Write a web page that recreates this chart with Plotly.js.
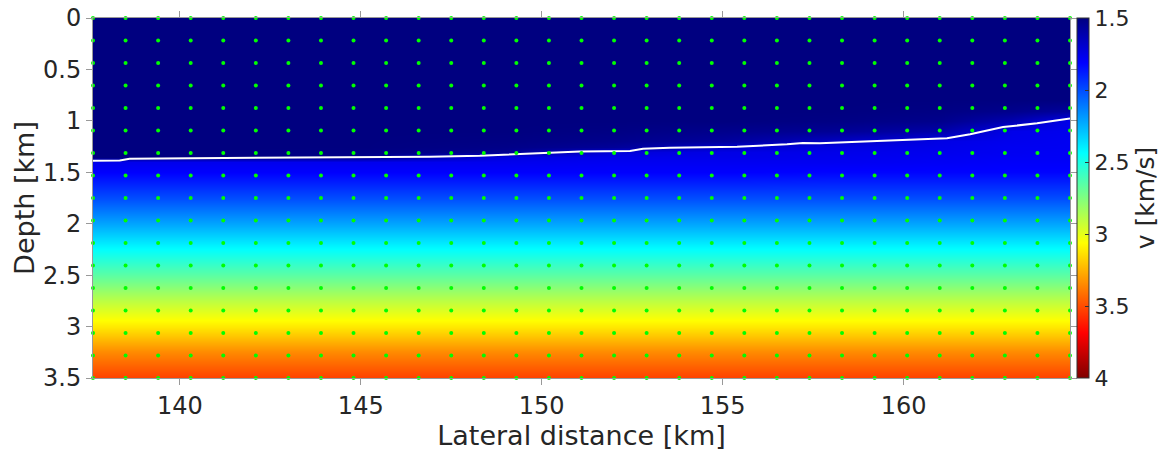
<!DOCTYPE html>
<html><head><meta charset="utf-8">
<script src="https://cdn.plot.ly/plotly-3.0.1.min.js"></script>
<style>html,body{margin:0;padding:0;background:#fff}#chart{width:1165px;height:453px}</style>
</head><body><div id="chart"></div>
<script>
// Velocity model grid (lateral km x depth km), values in km/s
const gridX = [137.6, 141, 145, 149, 152, 155, 158, 161, 163, 164.6];
const gridDepth = [0, 0.8, 0.9, 1.0, 1.1, 1.2, 1.25, 1.3, 1.35, 1.4, 1.5, 1.75, 2.0, 2.25, 2.5, 2.75, 3.0, 3.25, 3.5];
const velocity = [
  [1.5, 1.5, 1.5, 1.5, 1.5, 1.5, 1.5, 1.5, 1.5, 1.5],
  [1.5, 1.5, 1.5, 1.5, 1.5, 1.5, 1.5, 1.5, 1.5, 1.5],
  [1.5, 1.5, 1.5, 1.5, 1.5, 1.5, 1.5, 1.51, 1.53, 1.57],
  [1.5, 1.5, 1.5, 1.5, 1.5, 1.5, 1.51, 1.53, 1.62, 1.76],
  [1.5, 1.5, 1.5, 1.5, 1.51, 1.53, 1.55, 1.6, 1.76, 1.77],
  [1.5, 1.5, 1.5, 1.51, 1.53, 1.57, 1.66, 1.75, 1.77, 1.78],
  [1.5, 1.5, 1.5, 1.52, 1.56, 1.68, 1.74, 1.76, 1.78, 1.78],
  [1.5, 1.5, 1.51, 1.54, 1.72, 1.75, 1.76, 1.77, 1.78, 1.79],
  [1.5, 1.5, 1.52, 1.74, 1.76, 1.76, 1.77, 1.78, 1.79, 1.79],
  [1.76, 1.77, 1.77, 1.77, 1.78, 1.78, 1.78, 1.79, 1.8, 1.8],
  [1.81, 1.81, 1.81, 1.81, 1.81, 1.81, 1.82, 1.82, 1.82, 1.82],
  [2.0, 2.0, 2.0, 2.0, 2.0, 2.0, 2.0, 2.0, 2.0, 2.0],
  [2.22, 2.22, 2.22, 2.22, 2.22, 2.22, 2.22, 2.22, 2.22, 2.22],
  [2.44, 2.44, 2.44, 2.44, 2.44, 2.44, 2.44, 2.44, 2.44, 2.44],
  [2.66, 2.66, 2.66, 2.66, 2.66, 2.66, 2.66, 2.66, 2.66, 2.66],
  [2.9, 2.9, 2.9, 2.9, 2.9, 2.9, 2.9, 2.9, 2.9, 2.9],
  [3.12, 3.12, 3.12, 3.12, 3.12, 3.12, 3.12, 3.12, 3.12, 3.12],
  [3.35, 3.35, 3.35, 3.35, 3.35, 3.35, 3.35, 3.35, 3.35, 3.35],
  [3.53, 3.53, 3.53, 3.53, 3.53, 3.53, 3.53, 3.53, 3.53, 3.53]
];
// Seafloor line
const seafloorX = [137.6, 138.34, 138.61, 140.55, 144.42, 146.91, 148.29, 149.31, 150.14, 151.06, 152.44, 152.8, 153.54, 155.4, 156.78, 157.22, 157.69, 159.54, 161.2, 161.84, 162.75, 163.69, 164.6];
const seafloorDepth = [1.387, 1.385, 1.368, 1.364, 1.356, 1.348, 1.339, 1.325, 1.315, 1.298, 1.293, 1.271, 1.261, 1.251, 1.228, 1.215, 1.218, 1.196, 1.17, 1.131, 1.06, 1.024, 0.978];
// Inversion grid nodes
const nodeX = [137.6, 138.5, 139.4, 140.3, 141.2, 142.1, 143.0, 143.9, 144.8, 145.7, 146.6, 147.5, 148.4, 149.3, 150.2, 151.1, 152.0, 152.9, 153.8, 154.7, 155.6, 156.5, 157.4, 158.3, 159.2, 160.1, 161.0, 161.9, 162.8, 163.7, 164.6];
const nodeDepth = [0, 0.21875, 0.4375, 0.65625, 0.875, 1.09375, 1.3125, 1.53125, 1.75, 1.96875, 2.1875, 2.40625, 2.625, 2.84375, 3.0625, 3.28125, 3.5];
const xTicks = [140, 145, 150, 155, 160];
const yTicks = [0, 0.5, 1, 1.5, 2, 2.5, 3, 3.5];
const cbTicks = [1.5, 2, 2.5, 3, 3.5, 4];

const jet = [[0, '#000080'], [0.125, '#0000ff'], [0.375, '#00ffff'], [0.625, '#ffff00'], [0.875, '#ff0000'], [1, '#800000']];
const txt = '#262626';

const dotsX = [], dotsY = [];
nodeDepth.forEach(d => nodeX.forEach(x => { dotsX.push(x); dotsY.push(d); }));

const traces = [
  {
    type: 'heatmap', x: gridX, y: gridDepth,
    z: velocity.map(r => r.map(v => -v)),
    zsmooth: 'best', zmin: -4, zmax: -1.5,
    colorscale: jet, reversescale: true,
    hoverinfo: 'skip',
    colorbar: {
      x: 1.0072, xanchor: 'left', xpad: 0, ypad: 0,
      y: 0.5, yanchor: 'middle', len: 1, lenmode: 'fraction',
      thickness: 12, outlinewidth: 1, outlinecolor: '#333',
      tickvals: cbTicks.map(v => -v), ticktext: cbTicks.map(String),
      ticks: 'inside', ticklen: 4, tickcolor: '#333',
      tickfont: {size: 22, color: txt, family: 'DejaVu Sans'},
      title: {text: 'v [km/s]', side: 'right', font: {size: 25, color: txt, family: 'DejaVu Sans'}}
    }
  },
  {
    type: 'scatter', mode: 'lines', x: seafloorX, y: seafloorDepth,
    line: {color: '#ffffff', width: 2}, hoverinfo: 'skip'
  },
  {
    type: 'scatter', mode: 'markers', x: dotsX, y: dotsY,
    marker: {color: '#00ff00', size: 4}, cliponaxis: false, hoverinfo: 'skip'
  }
];

const axisCommon = {
  showgrid: false, zeroline: false, showline: true, linecolor: '#999', linewidth: 1,
  mirror: 'ticks', ticks: 'outside', ticklen: 6, tickcolor: '#999',
  tickfont: {size: 24, color: txt, family: 'DejaVu Sans'}
};

const layout = {
  width: 1165, height: 453,
  margin: {l: 93, r: 95, t: 18, b: 75, autoexpand: false},
  paper_bgcolor: '#ffffff', plot_bgcolor: '#ffffff',
  showlegend: false,
  font: {family: 'DejaVu Sans', color: txt},
  xaxis: Object.assign({}, axisCommon, {
    range: [137.6, 164.6], tickvals: xTicks, ticktext: xTicks.map(String),
    title: {text: 'Lateral distance [km]', font: {size: 27, color: txt}, standoff: 4}
  }),
  yaxis: Object.assign({}, axisCommon, {
    range: [3.5, 0], tickvals: yTicks, ticktext: yTicks.map(String),
    title: {text: 'Depth [km]', font: {size: 27, color: txt}, standoff: 0}
  })
};

Plotly.newPlot('chart', traces, layout, {staticPlot: true, displayModeBar: false});
</script>
</body></html>
